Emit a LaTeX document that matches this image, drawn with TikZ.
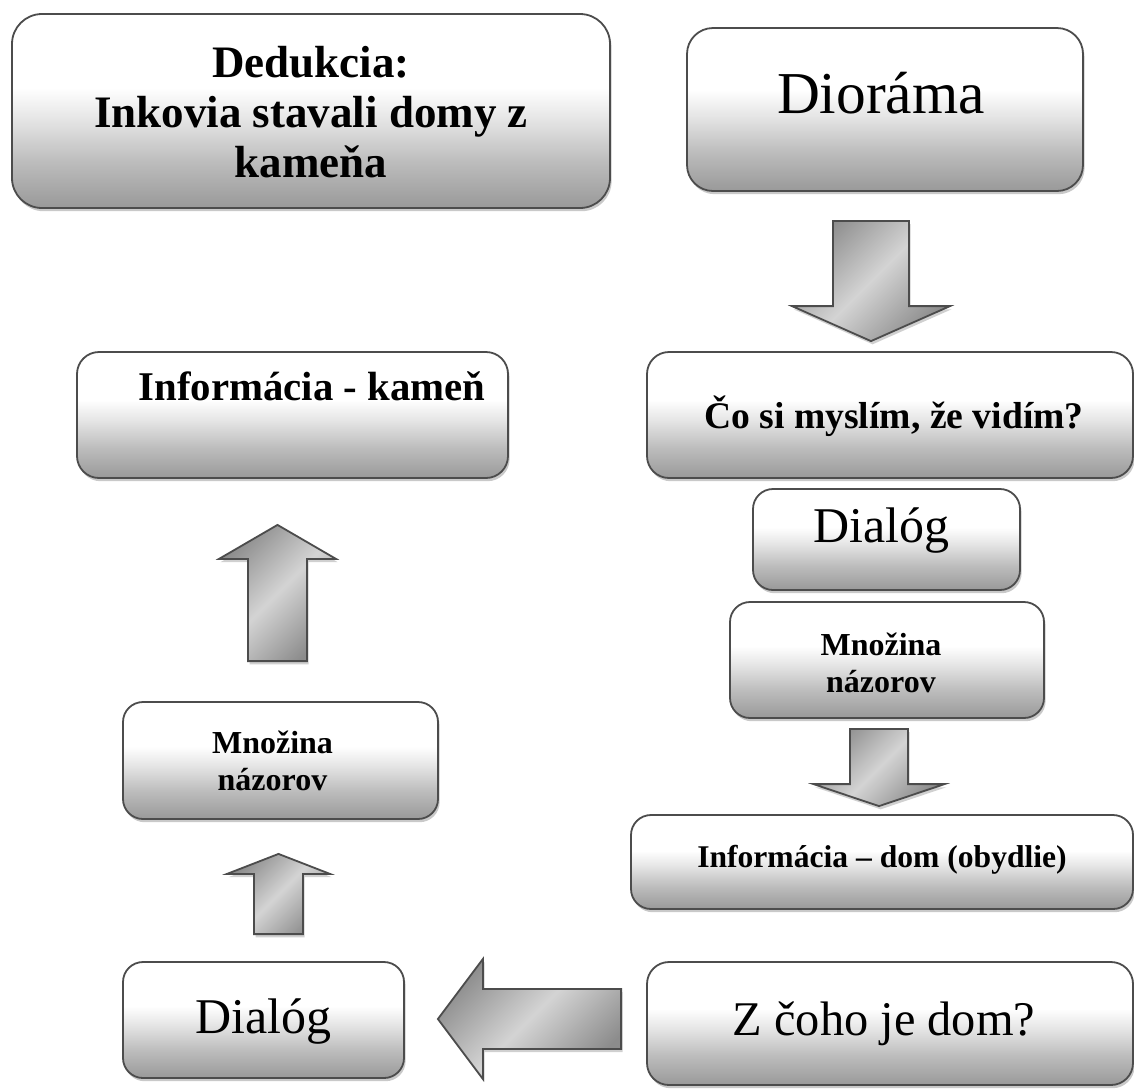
\documentclass[tikz,border=0pt]{standalone}
\usepackage{fontspec}
\setmainfont{Liberation Serif}
\usetikzlibrary{calc,shadows}
\pgfdeclareverticalshading{boxfill}{100bp}{color(0bp)=(black!40); color(25bp)=(black!40); color(37bp)=(black!26); color(48bp)=(black!10); color(56bp)=(white); color(100bp)=(white)}
\newdimen\pxu \pxu=0.5pt
\newcommand\tline[3][0]{\makebox[0pt]{\hspace*{#1\pxu}\hspace*{#1\pxu}\raisebox{#2\pxu}[0pt][0pt]{#3}}}
\newcommand\blockarrow[5]{%
  \coordinate (ba-h) at ($(#2)!#5!(#1)$);
  \draw[barrow] ($(#1)!#3!90:(#2)$) -- ($(ba-h)!#3!90:(#2)$) -- ($(ba-h)!#4!90:(#2)$) -- (#2)
    -- ($(ba-h)!#4!-90:(#2)$) -- ($(ba-h)!#3!-90:(#2)$) -- ($(#1)!#3!-90:(#2)$) -- cycle;}
\tikzset{
  box/.style={draw=black!70, line width=0.9pt, rounded corners=10pt, shade, shading=boxfill, inner sep=0pt,
    drop shadow={shadow xshift=0.8pt, shadow yshift=-1.6pt, opacity=0.35, fill=black!60}},
  barrow/.style={draw=black!70, line width=0.9pt, top color=black!45, bottom color=black!45, middle color=black!17,
    shading angle=45, drop shadow={shadow xshift=0.8pt, shadow yshift=-1.6pt, opacity=0.3, fill=black!60}},
}
\begin{document}
\begin{tikzpicture}[x=0.5pt,y=-0.5pt]
\useasboundingbox (0,0) rectangle (1134,1089);
\fill[white] (0,0) rectangle (1134,1089);

\node[box, rounded corners=15pt, minimum width=299pt, minimum height=97pt] (ded) at (311,111)
  {\fontsize{22.5}{25}\selectfont\bfseries\tline{34}{Dedukcia:}\tline{-16}{Inkovia stavali domy z}\tline{-66}{kameňa}};
\node[box, rounded corners=13pt, minimum width=198pt, minimum height=81.5pt] (dio) at (885,109.5)
  {\fontsize{29.7}{32}\selectfont\tline[-4]{-3.5}{Dioráma}};
\node[box, rounded corners=11pt, minimum width=215.5pt, minimum height=63pt] (kam) at (292.5,415)
  {\fontsize{20.4}{23}\selectfont\bfseries\tline[19.5]{15}{Informácia - kameň}};
\node[box, rounded corners=11pt, minimum width=243pt, minimum height=63pt] (co) at (890,415)
  {\fontsize{18.8}{22}\selectfont\bfseries\tline[4]{-13}{Čo si myslím, že vidím?}};
\node[box, minimum width=133.5pt, minimum height=50.5pt] (dlgR) at (886.5,539.5)
  {\fontsize{25}{28}\selectfont\tline[-5]{-2.5}{Dialóg}};
\node[box, minimum width=157pt, minimum height=58pt] (mnR) at (887,660)
  {\fontsize{16}{18}\selectfont\bfseries\tline[-6]{5}{Množina}\tline[-6]{-32}{názorov}};
\node[box, minimum width=157.5pt, minimum height=58.5pt] (mnL) at (280.5,760.5)
  {\fontsize{16}{18}\selectfont\bfseries\tline[-8]{7.5}{Množina}\tline[-8]{-29.5}{názorov}};
\node[box, minimum width=251pt, minimum height=47pt] (dom) at (882,862)
  {\fontsize{15.8}{18}\selectfont\bfseries\tline{-5}{Informácia – dom (obydlie)}};
\node[box, minimum width=140.5pt, minimum height=58pt] (dlgL) at (263.5,1020)
  {\fontsize{25}{28}\selectfont\tline{-13}{Dialóg}};
\node[box, rounded corners=11pt, minimum width=243pt, minimum height=61.5pt] (zc) at (890,1023.5)
  {\fontsize{24.2}{27}\selectfont\tline[-6]{-11.5}{Z čoho je dom?}};

% block arrows
\coordinate (a1t) at ($(dio.south)+(-14,29)$);
\coordinate (a1p) at ($(a1t |- co.north)+(0,-10)$);
\coordinate (a2t) at ($(mnR.south)+(-8,10)$);
\coordinate (a2p) at ($(a2t |- dom.north)+(0,-8)$);
\coordinate (a3t) at ($(zc.west)+(-25,-4.5)$);
\coordinate (a3p) at ($(a3t -| dlgL.east)+(33,0)$);
\coordinate (a4t) at ($(dlgL.north)+(15,-27)$);
\coordinate (a4p) at ($(a4t |- mnL.south)+(0,34)$);
\coordinate (a5t) at ($(mnL.north)+(-3,-40)$);
\coordinate (a5p) at ($(a5t |- kam.south)+(0,46)$);

\blockarrow{a1t}{a1p}{19pt}{39.5pt}{17.5pt}
\blockarrow{a2t}{a2p}{14.5pt}{32.75pt}{11pt}
\blockarrow{a3t}{a3p}{15pt}{30pt}{22.5pt}
\blockarrow{a4t}{a4p}{12.25pt}{25.75pt}{10pt}
\blockarrow{a5t}{a5p}{14.75pt}{29.25pt}{17pt}
\end{tikzpicture}
\end{document}
